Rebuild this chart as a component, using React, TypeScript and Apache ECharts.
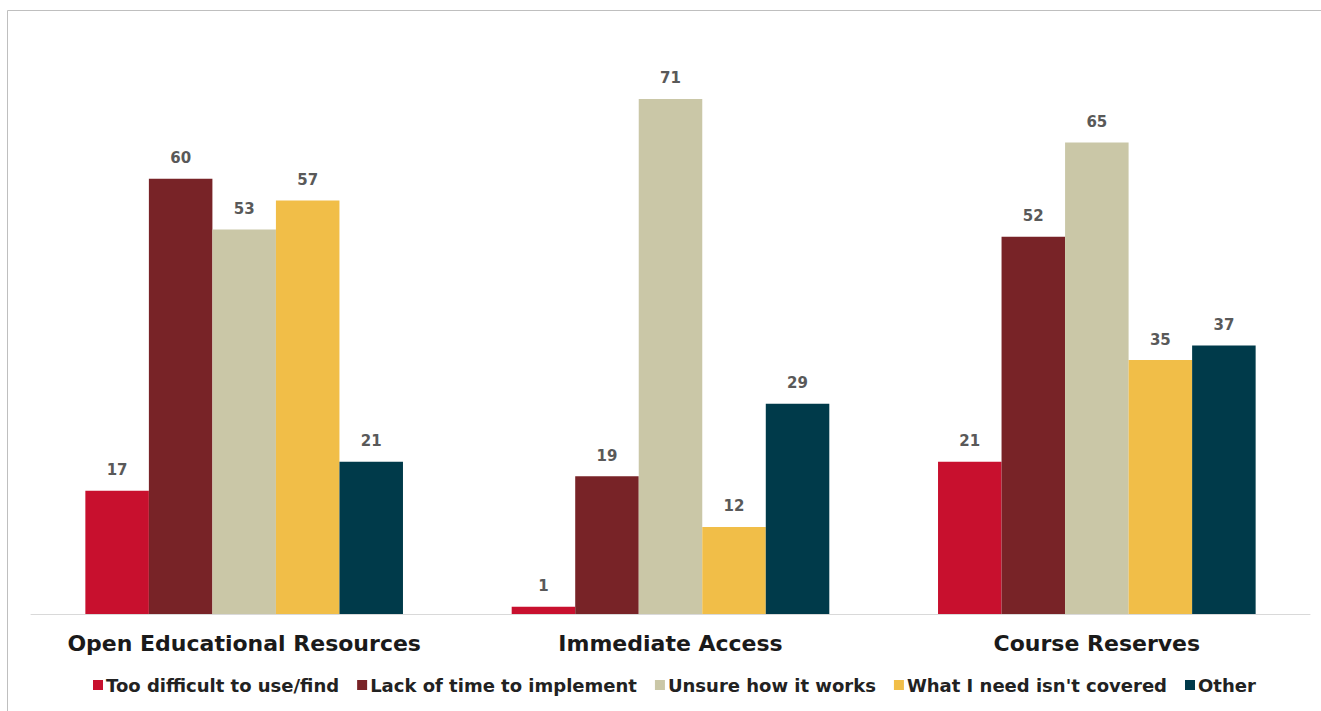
import React, { useEffect, useRef } from "react";
import * as echarts from "echarts";

const categories = ["Open Educational Resources", "Immediate Access", "Course Reserves"];
const seriesNames = [
  "Too difficult to use/find",
  "Lack of time to implement",
  "Unsure how it works",
  "What I need isn't covered",
  "Other",
];
const tooDifficult = [17, 1, 21];
const lackOfTime = [60, 19, 52];
const unsure = [53, 71, 65];
const notCovered = [57, 12, 35];
const other = [21, 29, 37];
const colors = ["#C8102E", "#782327", "#CAC7A7", "#F1BE48", "#003A4A"];

const FONT = "'DejaVu Sans', Verdana, sans-serif";

export default function App() {
  const ref = useRef<HTMLDivElement>(null);
  useEffect(() => {
    if (!ref.current) return;
    const chart = echarts.init(ref.current, undefined, { renderer: "svg" });
    const dataSets = [tooDifficult, lackOfTime, unsure, notCovered, other];
    chart.setOption({
      animation: false,
      backgroundColor: "#ffffff",
      graphic: [
        {
          type: "rect",
          shape: { x: 7.5, y: 10.5, width: 1330, height: 720 },
          style: { fill: "none", stroke: "#bfbfbf", lineWidth: 1 },
          silent: true,
        },
      ],
      grid: { left: 31, right: 11, top: 33.7, bottom: 97, containLabel: false },
      legend: {
        bottom: 12,
        left: 88,
        itemWidth: 10,
        itemHeight: 10,
        itemGap: 18,
        icon: "rect",
        textStyle: { fontFamily: FONT, fontWeight: "bold", fontSize: 18, color: "#222", padding: [0, 0, 0, -2] },
        data: seriesNames,
      },
      xAxis: {
        type: "category",
        data: categories,
        axisLine: { lineStyle: { color: "#d9d9d9", width: 1 } },
        axisTick: { show: false },
        axisLabel: {
          interval: 0,
          fontFamily: FONT,
          fontWeight: "bold",
          fontSize: 22,
          color: "#1a1a1a",
          margin: 18,
        },
      },
      yAxis: {
        type: "value",
        min: 0,
        max: 80,
        show: false,
        splitLine: { show: false },
      },
      series: seriesNames.map((name, i) => ({
        name,
        type: "bar",
        data: dataSets[i],
        barGap: "0%",
        barCategoryGap: "25.5%",
        itemStyle: { color: colors[i] },
        label: {
          show: true,
          position: "top",
          distance: 13,
          fontFamily: FONT,
          fontWeight: "bold",
          fontSize: 15,
          color: "#595959",
        },
      })),
    });
    return () => chart.dispose();
  }, []);
  return (
    <div
      ref={ref}
      style={{ position: "fixed", left: 0, top: 0, width: 1321, height: 711 }}
    />
  );
}
